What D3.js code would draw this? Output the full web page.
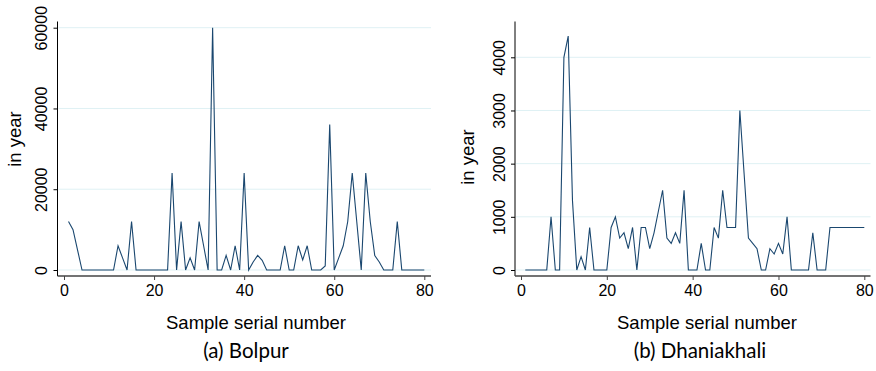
<!DOCTYPE html>
<html>
<head>
<meta charset="utf-8">
<script src="https://cdn.jsdelivr.net/npm/d3@7"></script>
<style>
  body { margin: 0; background: #fff; }
  svg { display: block; }
  .tick text { font-family: "Liberation Sans", Arial, sans-serif; }
</style>
</head>
<body>
<div id="chart"></div>
<script>
// sample serial numbers 1..80
const serials = d3.range(1, 81);

// (a) Bolpur
const bolpurValues = [
  12000, 10000, 5000, 0, 0, 0, 0, 0, 0, 0,
  0, 6000, 3000, 0, 12000, 0, 0, 0, 0, 0,
  0, 0, 0, 24000, 0, 12000, 0, 3000, 0, 12000,
  6000, 0, 60000, 0, 0, 3600, 0, 6000, 0, 24000,
  0, 2000, 3600, 2400, 0, 0, 0, 0, 6000, 0,
  0, 6000, 2500, 6000, 0, 0, 0, 1000, 36000, 0,
  3000, 6000, 12000, 24000, 12000, 0, 24000, 12000, 3600, 2000,
  0, 0, 0, 12000, 0, 0, 0, 0, 0, 0
];

// (b) Dhaniakhali
const dhaniakhaliValues = [
  0, 0, 0, 0, 0, 0, 1000, 0, 0, 4000,
  4400, 1300, 0, 250, 0, 800, 0, 0, 0, 0,
  800, 1000, 600, 700, 400, 800, 0, 800, 800, 400,
  700, 1100, 1500, 600, 500, 700, 500, 1500, 0, 0,
  0, 500, 0, 0, 800, 600, 1500, 800, 800, 800,
  3000, 1800, 600, 500, 400, 0, 0, 400, 300, 500,
  300, 1000, 0, 0, 0, 0, 0, 700, 0, 0,
  0, 800, 800, 800, 800, 800, 800, 800, 800, 800
];

const xTicks = [0, 20, 40, 60, 80];
const bolpurTicks = [0, 20000, 40000, 60000];
const dhaniakhaliTicks = [0, 1000, 2000, 3000, 4000];

const width = 876, height = 371;
const lineColor = "#1a476f";
const gridColor = "#dff1f4";
const axisFont = '"Liberation Sans", Arial, sans-serif';

const svg = d3.select("#chart").append("svg")
  .attr("width", width)
  .attr("height", height);

function drawPanel(opts) {
  const g = svg.append("g");

  const x = d3.scaleLinear().domain([0, 80]).range([opts.x0, opts.x80]);
  const y = d3.scaleLinear().domain([0, opts.yTop]).range([270, opts.yTopPx]);

  // grid lines
  g.selectAll(".grid")
    .data(opts.yTicks)
    .enter().append("line")
    .attr("x1", opts.left + 1)
    .attr("x2", opts.right)
    .attr("y1", d => y(d))
    .attr("y2", d => y(d))
    .attr("stroke", gridColor)
    .attr("stroke-width", 1);

  // data line
  const line = d3.line()
    .x((d, i) => x(serials[i]))
    .y(d => y(d));

  g.append("path")
    .datum(opts.values)
    .attr("fill", "none")
    .attr("stroke", lineColor)
    .attr("stroke-width", 1.1)
    .attr("stroke-linejoin", "miter")
    .attr("d", line);

  // y axis
  const yAxis = g.append("g")
    .attr("transform", `translate(${opts.left},0)`)
    .call(d3.axisLeft(y).tickValues(opts.yTicks).tickSize(4).tickFormat(d3.format("d")));
  yAxis.select(".domain")
    .attr("d", `M0,21.5V276`)
    .attr("stroke", "#000");
  yAxis.selectAll(".tick line").attr("stroke", "#000");
  yAxis.selectAll(".tick text")
    .attr("transform", "rotate(-90)")
    .attr("x", 0)
    .attr("y", -16)
    .attr("dy", "0.35em")
    .attr("text-anchor", "middle")
    .attr("font-size", 16)
    .attr("fill", "#000");

  // x axis
  const xAxis = g.append("g")
    .attr("transform", "translate(0,276)")
    .call(d3.axisBottom(x).tickValues(xTicks).tickSize(4).tickPadding(5).tickFormat(d3.format("d")));
  xAxis.select(".domain")
    .attr("d", `M${opts.left},0H${opts.right}`)
    .attr("stroke", "#444")
    .attr("stroke-width", 1.5);
  xAxis.selectAll(".tick line").attr("stroke", "#444");
  xAxis.selectAll(".tick text")
    .attr("font-size", 16)
    .attr("fill", "#000");

  // y title
  g.append("text")
    .attr("transform", `translate(${opts.yTitleX},${opts.yTitleY}) rotate(-90)`)
    .attr("text-anchor", "middle")
    .attr("font-family", axisFont)
    .attr("font-size", 18.5)
    .text("in year");

  // x title
  g.append("text")
    .attr("x", opts.xTitleX)
    .attr("y", 329)
    .attr("text-anchor", "middle")
    .attr("font-family", axisFont)
    .attr("font-size", 18.5)
    .text("Sample serial number");

  // panel caption
  g.append("text")
    .attr("x", opts.captionX)
    .attr("y", 358)
    .attr("text-anchor", "middle")
    .attr("font-family", "Lato, 'Open Sans', sans-serif")
    .attr("font-size", 20.5)
    .text(opts.caption);
}

drawPanel({
  values: bolpurValues,
  yTicks: bolpurTicks,
  yTop: 60000,
  yTopPx: 27.7,
  x0: 64, x80: 424.3,
  left: 57.5, right: 431,
  yTitleX: 21, yTitleY: 139,
  xTitleX: 256,
  captionX: 246,
  caption: "(a) Bolpur"
});

drawPanel({
  values: dhaniakhaliValues,
  yTicks: dhaniakhaliTicks,
  yTop: 4000,
  yTopPx: 57.3,
  x0: 521, x80: 864.3,
  left: 515, right: 870.5,
  yTitleX: 474, yTitleY: 157,
  xTitleX: 707,
  captionX: 700,
  caption: "(b) Dhaniakhali"
});
</script>
</body>
</html>
